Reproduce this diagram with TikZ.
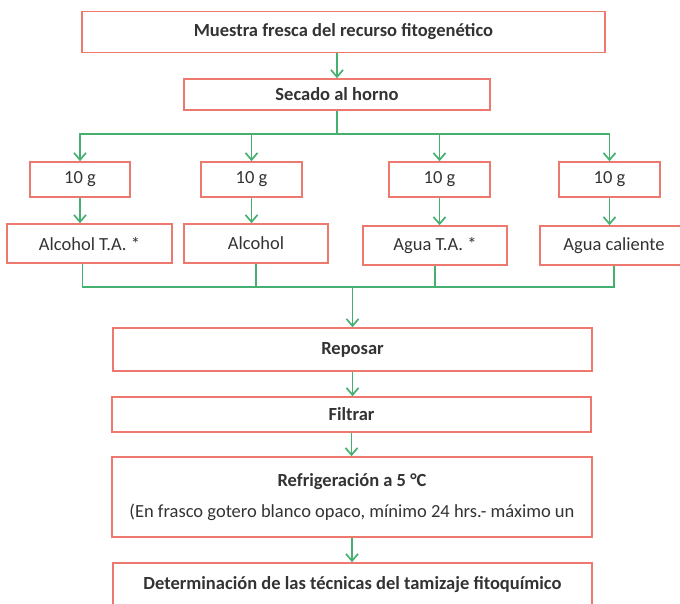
\documentclass[tikz,border=0pt]{standalone}
\usepackage{fontspec}
\setmainfont{Carlito}
\usetikzlibrary{arrows.meta,positioning}
\definecolor{boxred}{RGB}{236,120,110}
\definecolor{linegreen}{RGB}{70,176,112}

\begin{document}
\begin{tikzpicture}[x=1pt,y=-1pt,
            box/.style={draw=boxred,line width=1.6pt,fill=white,inner sep=0pt,
              align=center,text=black!80,font=\fontsize{18.5}{20}\selectfont},
            title/.style={box,font=\fontsize{18.5}{20}\selectfont\bfseries},
            link/.style={draw=linegreen,line width=1.7pt},
            arr/.style={link,-{Straight Barb[length=7pt,width=12pt]}}]

        \useasboundingbox (0,0) rectangle (680,603);
        \clip (0,0) rectangle (680,603);

        % main steps
        \node[title,minimum width=523pt,minimum height=41pt] (muestra) at (343.5,32) {Muestra fresca del recurso fitogenético};
        \node[title,minimum width=306pt,minimum height=31pt] (secado) at (337,94.5) {Secado al horno};

        % weighed portions
        \node[box,minimum width=100pt,minimum height=35pt] (g1) at (80,179.5) {10 g};
        \node[box,minimum width=101pt,minimum height=35pt] (g2) at (251.5,179.5) {10 g};
        \node[box,minimum width=101pt,minimum height=35pt] (g3) at (439.5,179.5) {10 g};
        \node[box,minimum width=101pt,minimum height=35pt] (g4) at (609.5,179.5) {10 g};

        % solvents
        \node[box,minimum width=165pt,minimum height=39pt] (s1) at (89.5,243.5) {Alcohol T.A. *};
        \node[box,minimum width=144pt,minimum height=39pt] (s2) at (256,243.5) {Alcohol};
        \node[box,minimum width=144pt,minimum height=39pt] (s3) at (435,245.5) {Agua T.A. *};
        \node[box,minimum width=148pt,minimum height=39pt] (s4) at (614,245.5) {Agua caliente};

        % common steps
        \node[title,minimum width=479pt,minimum height=43pt] (reposar) at (352.5,349.5) {Reposar};
        \node[title,minimum width=479pt,minimum height=35pt] (filtrar) at (351.5,414.5) {Filtrar};
        \node[box,minimum width=480pt,minimum height=80pt] (refrig) at (352,497)
            {\textbf{Refrigeración a 5 °C}\\[11pt](En frasco gotero blanco opaco, mínimo 24 hrs.- máximo un};
        \node[title,minimum width=479pt,minimum height=44pt] (determ) at (352.5,585) {Determinación de las técnicas del tamizaje fitoquímico};

        \draw[arr] (secado.north |- muestra.south) -- (secado.north);

        % branching
        \draw[link] (secado.south) -- ++(0,23) coordinate (split);
        \foreach \g in {g1,g2,g3,g4}
            \draw[arr] (split) -| (\g.north);

        \foreach \g/\s in {g1/s1,g2/s2,g3/s3,g4/s4}
            \draw[arr] (\g.south) -- (\g.south |- \s.north);

        % joining
        \coordinate (join) at (reposar.north |- 0,287);
        \draw[link] ([xshift=-7pt]s1.south) |- (join) -| (s4.south);
        \draw[link] (s2.south) -- (s2.south |- join);
        \draw[link] (s3.south) -- (s3.south |- join);
        \draw[arr] (join) -- (reposar.north);

        \draw[arr] (reposar.south) -- (reposar.south |- filtrar.north);
        \draw[arr] (filtrar.south) -- (filtrar.south |- refrig.north);
        \draw[arr] (refrig.south) -- (refrig.south |- determ.north);

    \end{tikzpicture}
\end{document}
